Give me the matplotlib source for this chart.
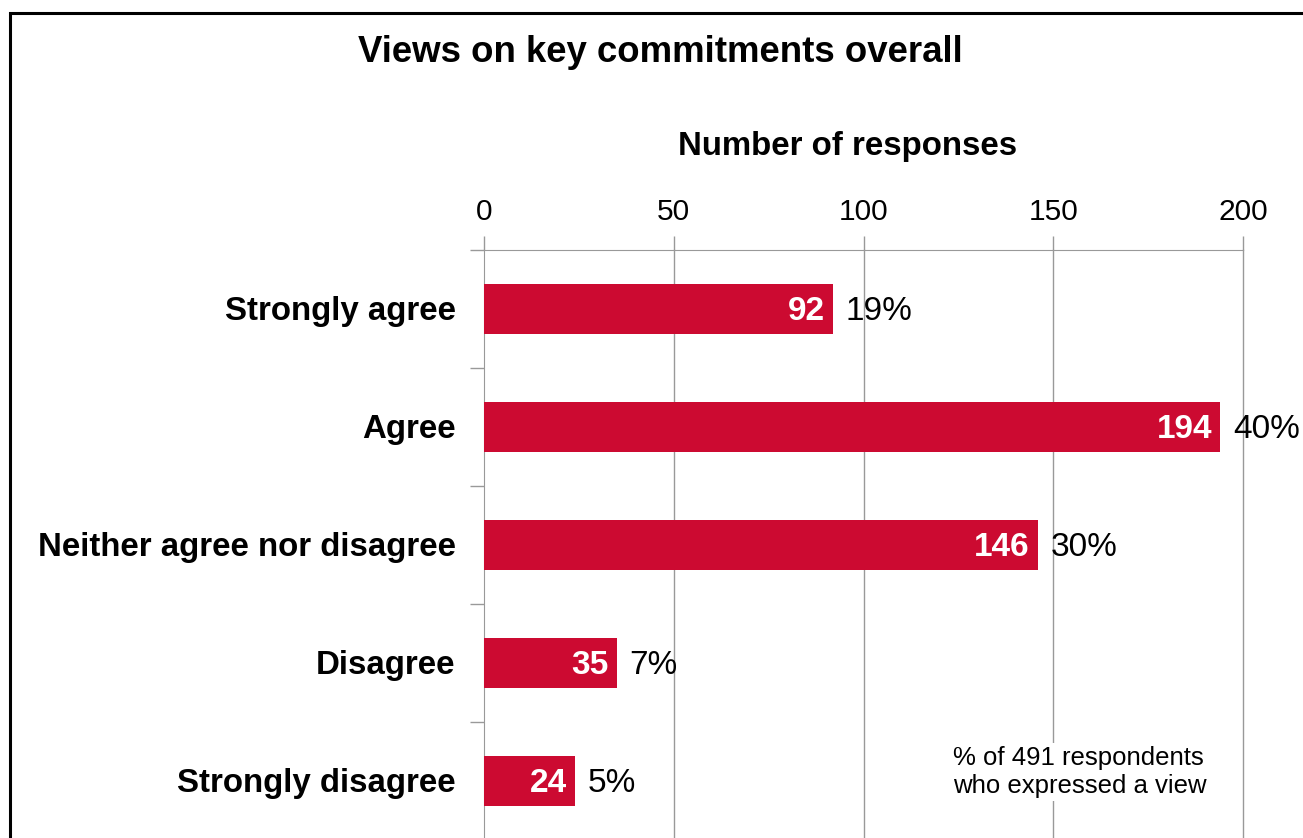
import matplotlib
matplotlib.use("Agg")
import matplotlib.pyplot as plt
from matplotlib.patches import Rectangle

categories = ["Strongly agree", "Agree", "Neither agree nor disagree", "Disagree", "Strongly disagree"]
counts = [92, 194, 146, 35, 24]
percents = ["19%", "40%", "30%", "7%", "5%"]
xticks = [0, 50, 100, 150, 200]
title = "Views on key commitments overall"
xlabel = "Number of responses"
note = "% of 491 respondents\nwho expressed a view"

W, H = 1303, 838
fig = plt.figure(figsize=(W / 100, H / 100), dpi=100)
fig.patch.set_facecolor("white")

def fx(px):
    return px / W

def fy(py):
    return 1 - py / H

ax = fig.add_axes([fx(484), fy(840), fx(1243) - fx(484), fy(250) - fy(840)])
bar_color = "#CC0A31"
ypos = list(range(len(categories)))
ax.barh(ypos, counts, height=0.43, color=bar_color, zorder=3)
ax.set_ylim(len(categories) - 0.5, -0.5)
ax.set_xlim(0, 200)

ax.xaxis.tick_top()
ax.set_xticks(xticks)
ax.set_xticklabels([str(t) for t in xticks], fontfamily="Liberation Sans", fontsize=21.5)
ax.tick_params(axis="x", length=10, color="#999999", width=1, pad=7)
ax.set_yticks([i + 0.5 for i in range(len(categories) - 1)] + [-0.5])
ax.set_yticklabels([])
ax.tick_params(axis="y", length=10, color="#999999", width=1)

dy = 0.025
for i, c in enumerate(categories):
    ax.text(-7.5, i + dy, c, ha="right", va="center", fontsize=23.8, fontweight="bold",
            fontfamily="Liberation Sans")

for t in xticks[1:]:
    ax.axvline(t, color="#999999", linewidth=1, zorder=0, clip_on=False)
for s in ["right", "bottom"]:
    ax.spines[s].set_visible(False)
ax.spines["top"].set_color("#999999")
ax.spines["left"].set_color("#999999")

for i, (v, p) in enumerate(zip(counts, percents)):
    ax.text(v - 2.2, i + dy, str(v), ha="right", va="center", color="white",
            fontsize=24, fontweight="bold", fontfamily="Liberation Sans", zorder=4)
    ax.text(v + 3.3, i + dy, p, ha="left", va="center", color="black",
            fontsize=24, fontfamily="Liberation Sans", zorder=4)

fig.text(fx(660), fy(53), title, ha="center", va="center", fontsize=26.4,
         fontweight="bold", fontfamily="Liberation Sans")
fig.text(fx(848), fy(147), xlabel, ha="center", va="center", fontsize=23.8,
         fontweight="bold", fontfamily="Liberation Sans")
fig.text(fx(953), fy(772), note, ha="left", va="center", fontsize=18.5,
         fontfamily="Liberation Sans", linespacing=1.22,
         bbox=dict(facecolor="white", edgecolor="none", pad=2), zorder=5)

border = Rectangle((fx(10), fy(900)), fx(1400), fy(13) - fy(900), transform=fig.transFigure,
                   fill=False, edgecolor="black", linewidth=2.2, zorder=10)
fig.patches.append(border)

fig.savefig("out.png", dpi=100, facecolor="white")
